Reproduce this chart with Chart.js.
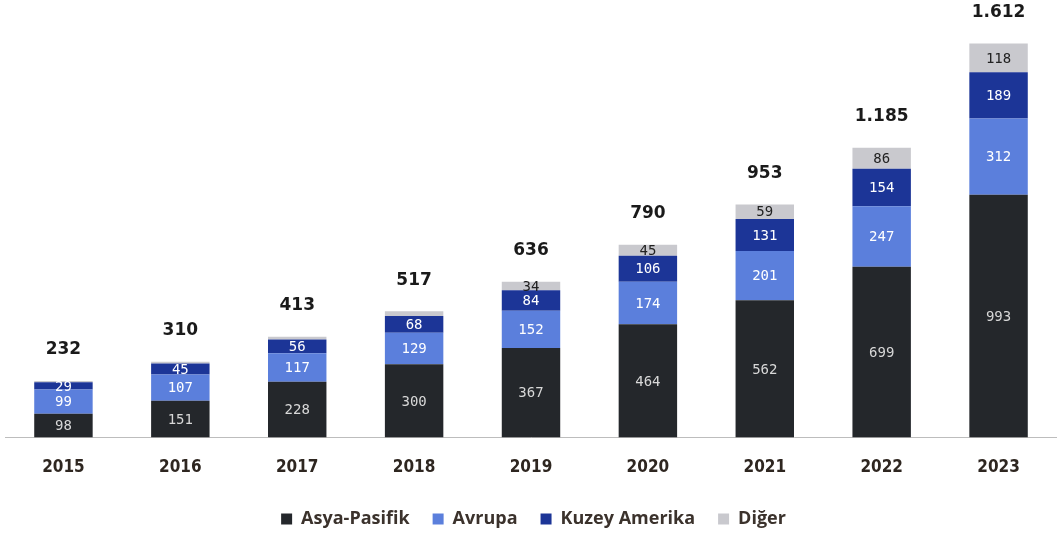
<!DOCTYPE html>
<html><head><meta charset="utf-8">
<script src="https://cdn.jsdelivr.net/npm/chart.js@4.4.1/dist/chart.umd.min.js"></script>
<style>html,body{margin:0;padding:0;background:#fff}#wrap{width:1057px;height:535px;position:relative}</style>
</head><body><div id="wrap"><canvas id="c"></canvas></div>
<script>
const years = ['2015','2016','2017','2018','2019','2020','2021','2022','2023'];
const asyaPasifik = [98,151,228,300,367,464,562,699,993];
const avrupa = [99,107,117,129,152,174,201,247,312];
const kuzeyAmerika = [29,45,56,68,84,106,131,154,189];
const diger = [6,7,12,20,34,45,59,86,118];
const totalLabels = ['232','310','413','517','636','790','953','1.185','1.612'];

const colors = ['#24272b','#5b7fdc','#1c3597','#c9c9ce'];
const labelColors = ['#d8d8d8','#ffffff','#ffffff','#222222'];

const segLabels = {
  id:'segLabels',
  afterDatasetsDraw(chart){
    const ctx = chart.ctx;
    ctx.save();
    ctx.textAlign='center'; ctx.textBaseline='middle';
    chart.data.datasets.forEach((ds,di)=>{
      const meta = chart.getDatasetMeta(di);
      meta.data.forEach((bar,i)=>{
        const v = ds.data[i];
        const h = Math.abs(bar.base - bar.y);
        if (h < 7) return;
        ctx.font = '14px "DejaVu Sans Mono", monospace';
        ctx.fillStyle = labelColors[di];
        ctx.fillText(String(v), bar.x, (bar.y+bar.base)/2+1);
      });
    });
    const top = chart.getDatasetMeta(chart.data.datasets.length-1);
    ctx.font = 'bold 17px "DejaVu Sans", sans-serif';
    ctx.fillStyle = '#1a1a1a';
    top.data.forEach((bar,i)=>{
      ctx.fillText(totalLabels[i], bar.x, bar.y-31);
    });
    ctx.restore();
  }
};

new Chart(document.getElementById('c'),{
  type:'bar',
  data:{
    labels:years,
    datasets:[
      {label:'Asya-Pasifik',data:asyaPasifik,backgroundColor:colors[0]},
      {label:'Avrupa',data:avrupa,backgroundColor:colors[1]},
      {label:'Kuzey Amerika',data:kuzeyAmerika,backgroundColor:colors[2]},
      {label:'Diğer',data:diger,backgroundColor:colors[3]}
    ]
  },
  options:{
    responsive:true, maintainAspectRatio:false, animation:false,
    layout:{padding:{left:5,right:-5,top:22,bottom:-3}},
    datasets:{bar:{barPercentage:0.5,categoryPercentage:1}},
    plugins:{
      tooltip:{enabled:false},
      legend:{position:'bottom',labels:{boxWidth:11,boxHeight:11,padding:23,color:'#3b322c',font:{size:18,weight:'bold',family:'"Open Sans", sans-serif'}}}
    },
    scales:{
      x:{stacked:true,grid:{display:false,drawTicks:false},border:{color:'#bdbdbd',width:1},
         afterFit(s){ s.height -= 11; },
         ticks:{padding:20,color:'#2e2620',font:{size:17,weight:'bold',family:'"DejaVu Sans Condensed","DejaVu Sans", sans-serif'}}},
      y:{stacked:true,display:false,min:0,max:1700}
    }
  },
  plugins:[segLabels]
});
</script></body></html>
